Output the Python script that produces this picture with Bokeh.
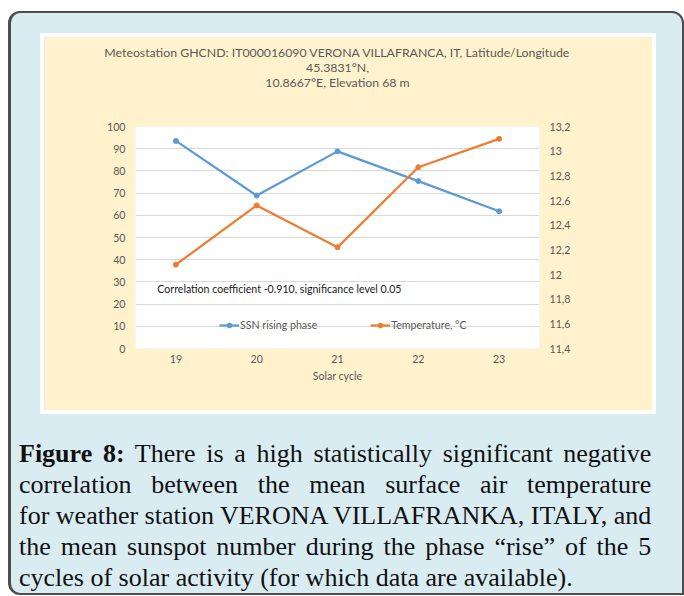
from bokeh.plotting import figure
from bokeh.models import (LinearAxis, Range1d, FixedTicker, Title, Label,
                          Legend, LegendItem, Div)
from bokeh.layouts import column
from bokeh.embed import file_html
from bokeh.resources import INLINE

# ---------------- data ----------------
cycles = [19, 20, 21, 22, 23]
ssn_rising = [93.5, 68.9, 88.8, 75.4, 61.8]
temperature = [12.08, 12.56, 12.22, 12.87, 13.10]

ssn_ticks = [0, 10, 20, 30, 40, 50, 60, 70, 80, 90, 100]
temp_ticks = [11.4, 11.6, 11.8, 12.0, 12.2, 12.4, 12.6, 12.8, 13.0, 13.2]
temp_tick_labels = ["11,4", "11,6", "11,8", "12", "12,2", "12,4",
                    "12,6", "12,8", "13", "13,2"]

series_names = ["SSN rising phase", "Temperature, °C"]
title_lines = [
    "Meteostation GHCND: IT000016090 VERONA VILLAFRANCA, IT, Latitude/Longitude",
    "45.3831°N,",
    "10.8667°E, Elevation 68 m",
]
x_title = "Solar cycle"
note = "Correlation coefficient -0.910, significance level 0.05"
caption_lines = [
    "<b>Figure 8:</b> There is a high statistically significant negative",
    "correlation between the mean surface air temperature",
    "for weather station VERONA VILLAFRANKA, ITALY, and",
    "the mean sunspot number during the phase “rise” of the 5",
    "cycles of solar activity (for which data are available).",
]

# ---------------- styles ----------------
BLUE = "#5b9bd5"
ORANGE = "#ed7d31"
CREAM = "#fff2cc"
PAGE_BG = "#d9ecf2"
GREY = "#595959"
FONT = "Lato"
SMALL = "10.6px"

p = figure(width=608, height=373,
           x_range=Range1d(18.5, 23.5), y_range=Range1d(0, 100),
           output_backend="svg", toolbar_location=None,
           min_border_left=91, min_border_right=113,
           min_border_top=89, min_border_bottom=62,
           border_fill_color=CREAM, background_fill_color="white",
           outline_line_color=None)

p.extra_y_ranges = {"temp": Range1d(11.4, 13.2)}

# spacer between frame and title block, then titles (innermost first)
p.add_layout(Title(text=" ", text_font_size="1px", standoff=34.5), "above")
for txt in reversed(title_lines):
    p.add_layout(Title(text=txt, align="center", offset=11, standoff=-2,
                       text_font=FONT, text_font_size="12.3px",
                       text_font_style="normal", text_color=GREY), "above")

# axes
p.xaxis.ticker = FixedTicker(ticks=cycles)
p.yaxis.ticker = FixedTicker(ticks=ssn_ticks)
raxis = LinearAxis(y_range_name="temp", ticker=FixedTicker(ticks=temp_ticks),
                   major_label_overrides={t: l for t, l in zip(temp_ticks, temp_tick_labels)})
p.add_layout(raxis, "right")
for ax in (p.xaxis[0], p.yaxis[0], raxis):
    ax.axis_line_color = None
    ax.major_tick_line_color = None
    ax.minor_tick_line_color = None
    ax.major_tick_out = 0
    ax.major_tick_in = 0
    ax.minor_tick_out = 0
    ax.minor_tick_in = 0
    ax.major_label_text_font = FONT
    ax.major_label_text_font_size = SMALL
    ax.major_label_text_color = GREY
p.yaxis.major_label_standoff = 10
raxis.major_label_standoff = 10
p.xaxis.major_label_standoff = 6
p.xaxis.axis_label = x_title
p.xaxis.axis_label_text_font = FONT
p.xaxis.axis_label_text_font_size = SMALL
p.xaxis.axis_label_text_font_style = "normal"
p.xaxis.axis_label_text_color = GREY
p.xaxis.axis_label_standoff = 4

p.xgrid.grid_line_color = None
p.ygrid.grid_line_color = "#d9d9d9"
p.ygrid.grid_line_width = 1

# series
l1 = p.line(cycles, ssn_rising, line_color=BLUE, line_width=2.25)
s1 = p.scatter(cycles, ssn_rising, size=5, fill_color=BLUE, line_color=BLUE)
l2 = p.line(cycles, temperature, line_color=ORANGE, line_width=2.25, y_range_name="temp")
s2 = p.scatter(cycles, temperature, size=5, fill_color=ORANGE, line_color=ORANGE,
               y_range_name="temp")

legend = Legend(items=[LegendItem(label=series_names[0], renderers=[l1, s1]),
                       LegendItem(label=series_names[1], renderers=[l2, s2])],
                orientation="horizontal", location=(84, 17),
                padding=0, margin=0, spacing=53, glyph_width=20, glyph_height=12,
                label_standoff=1, background_fill_alpha=0, border_line_color=None,
                label_text_font=FONT, label_text_font_size=SMALL,
                label_text_color=GREY)
p.add_layout(legend)

p.add_layout(Label(x=18.77, y=26.7, text=note, text_font=FONT,
                   text_font_size=SMALL, text_baseline="middle",
                   text_color="#1a1a1a"))

# caption
rows = []
for i, line in enumerate(caption_lines):
    last = "justify" if i < len(caption_lines) - 1 else "left"
    rows.append(f'<div style="text-align:justify;text-align-last:{last};">{line}</div>')
caption = Div(text="".join(rows), width=661, height=155, margin=(28, 2, 0, 8),
              styles={"font-family": "'Liberation Serif', serif", "font-size": "26px",
                      "line-height": "31px", "color": "#111111"})

p.margin = (24, 0, 0, 33)
p.styles = {"outline": "4px solid white"}

page = column(p, caption, spacing=0, margin=(11, 0, 0, 8),
              styles={"background-color": PAGE_BG,
                      "overflow": "hidden",
                      "border-top": "2px solid #4d4d4d",
                      "border-left": "3px solid #4d4d4d",
                      "border-right": "2px solid #4d4d4d",
                      "border-bottom": "2px solid #4d4d4d",
                      "border-top-left-radius": "12px",
                      "border-top-right-radius": "12px",
                      "border-bottom-left-radius": "12px"})

open("out.html", "w").write(file_html(page, INLINE))
